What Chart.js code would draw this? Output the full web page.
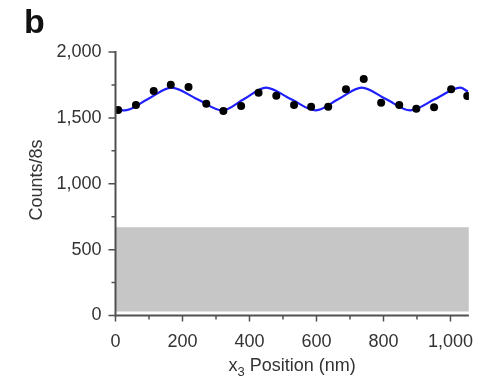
<!DOCTYPE html>
<html lang="en">
<head>
  <meta charset="UTF-8">
  <title>Counts vs x3 position</title>
  <script src="https://cdn.jsdelivr.net/npm/chart.js"></script>
  <style>
    html, body { margin: 0; padding: 0; background: #fff; }
    #wrap { width: 490px; height: 381px; }
  </style>
</head>
<body>
  <div id="wrap"><canvas id="viz"></canvas></div>
  <script>
    // measured points (nm, counts per 8 s)
    const pointX = [8, 61, 114, 165, 218, 271, 322, 375, 427, 480, 533, 584, 635, 688, 741, 793, 847, 898, 951, 1002, 1050]
    const pointY = [1560, 1598, 1704, 1752, 1734, 1608, 1552, 1590, 1691, 1668, 1598, 1585, 1585, 1717, 1795, 1615, 1598, 1570, 1580, 1717, 1666]

    // fitted curve at extrema and midpoints
    const fitX = [10, 28, 97, 167, 243, 319, 384, 449, 523, 598, 666, 735, 807, 880, 954, 1029, 1052]
    const fitY = [1560, 1557, 1643, 1729, 1643, 1557, 1643, 1729, 1643, 1557, 1643, 1729, 1643, 1557, 1643, 1729, 1700]

    // background band
    const bandX = [0, 1055]
    const bandTop = 670
    const bandBottom = 30

    const xMax = 1055
    const yMax = 2000
    const xLabelStep = 200
    const yLabelStep = 500

    const FONT = '"Liberation Sans", Arial, Helvetica, sans-serif'
    const fmt = v => v.toLocaleString('en-US')

    const axisPlugin = {
      id: 'axisPlugin',
      afterDraw(chart) {
        const ctx = chart.ctx
        const xs = chart.scales.x
        const ys = chart.scales.y
        const left = xs.getPixelForValue(0)
        const right = xs.getPixelForValue(xMax)
        const bottom = ys.getPixelForValue(0)
        const top = ys.getPixelForValue(yMax)
        ctx.save()
        ctx.strokeStyle = '#505050'
        ctx.lineWidth = 2
        ctx.beginPath()
        ctx.moveTo(left, top - 1)
        ctx.lineTo(left, bottom)
        ctx.lineTo(right, bottom)
        ctx.stroke()
        ctx.lineWidth = 1.5
        ctx.beginPath()
        for (let v = 0; v <= yMax; v += 250) {
          const p = ys.getPixelForValue(v)
          const len = v % yLabelStep === 0 ? 7 : 4
          ctx.moveTo(left - len, p)
          ctx.lineTo(left, p)
        }
        for (let v = 0; v <= 1000; v += 100) {
          const p = xs.getPixelForValue(v)
          const len = v % xLabelStep === 0 ? 6 : 4
          ctx.moveTo(p, bottom)
          ctx.lineTo(p, bottom + len)
        }
        ctx.stroke()

        // panel letter
        ctx.fillStyle = '#111'
        ctx.font = 'bold 34px ' + FONT
        ctx.textAlign = 'left'
        ctx.textBaseline = 'alphabetic'
        ctx.fillText('b', 24, 33)

        // y title
        ctx.fillStyle = '#333'
        ctx.font = '18px ' + FONT
        ctx.save()
        ctx.translate(37, 180)
        ctx.rotate(-Math.PI / 2)
        ctx.textAlign = 'center'
        ctx.textBaseline = 'middle'
        ctx.fillText('Counts/8s', 0, 0)
        ctx.restore()

        // x title with subscript
        const cx = (left + right) / 2
        const base = 371
        const partA = 'x'
        const partB = ' Position (nm)'
        ctx.font = '18px ' + FONT
        const wA = ctx.measureText(partA).width
        const wB = ctx.measureText(partB).width
        ctx.font = '13px ' + FONT
        const wS = ctx.measureText('3').width
        let x0 = cx - (wA + wS + wB) / 2
        ctx.textAlign = 'left'
        ctx.textBaseline = 'alphabetic'
        ctx.font = '18px ' + FONT
        ctx.fillText(partA, x0, base)
        ctx.font = '13px ' + FONT
        ctx.fillText('3', x0 + wA, base + 5)
        ctx.font = '18px ' + FONT
        ctx.fillText(partB, x0 + wA + wS, base)
        ctx.restore()
      }
    }

    const viz = document.getElementById('viz')
    const chart = new Chart(viz, {
      type: 'scatter',
      data: {
        datasets: [{
          label: 'band',
          data: bandX.map(x => ({ x: x, y: bandTop })),
          showLine: true,
          borderWidth: 0,
          borderColor: 'rgba(0,0,0,0)',
          backgroundColor: '#c6c6c6',
          pointRadius: 0,
          fill: { value: bandBottom },
          order: 3
        }, {
          label: 'fit',
          data: fitX.map((x, i) => ({ x: x, y: fitY[i] })),
          showLine: true,
          borderColor: '#1f1fff',
          borderWidth: 2.2,
          pointRadius: 0,
          cubicInterpolationMode: 'monotone',
          order: 2
        }, {
          label: 'data',
          data: pointX.map((x, i) => ({ x: x, y: pointY[i] })),
          pointRadius: 4,
          pointBackgroundColor: '#000',
          pointBorderWidth: 0,
          order: 1
        }]
      },
      options: {
        responsive: true,
        maintainAspectRatio: false,
        animation: false,
        layout: { padding: { top: 52, right: 19, left: 0, bottom: 0 } },
        plugins: { legend: { display: false }, tooltip: { enabled: false } },
        scales: {
          x: {
            type: 'linear',
            min: 0,
            max: xMax,
            grid: { display: false, drawTicks: false },
            border: { display: false },
            afterFit(s) { s.height = 65.5 },
            ticks: {
              stepSize: 100,
              includeBounds: false,
              autoSkip: false,
              maxRotation: 0,
              padding: 16,
              color: '#333',
              font: { family: FONT, size: 18 },
              callback: v => v % xLabelStep === 0 ? fmt(v) : ''
            }
          },
          y: {
            min: 0,
            max: yMax,
            grid: { display: false, drawTicks: false },
            border: { display: false },
            afterFit(s) { s.width = 115.5 },
            ticks: {
              stepSize: 250,
              autoSkip: false,
              padding: 14,
              color: '#333',
              font: { family: FONT, size: 18 },
              callback: v => v % yLabelStep === 0 ? fmt(v) : ''
            }
          }
        }
      },
      plugins: [axisPlugin]
    })
  </script>
</body>
</html>
